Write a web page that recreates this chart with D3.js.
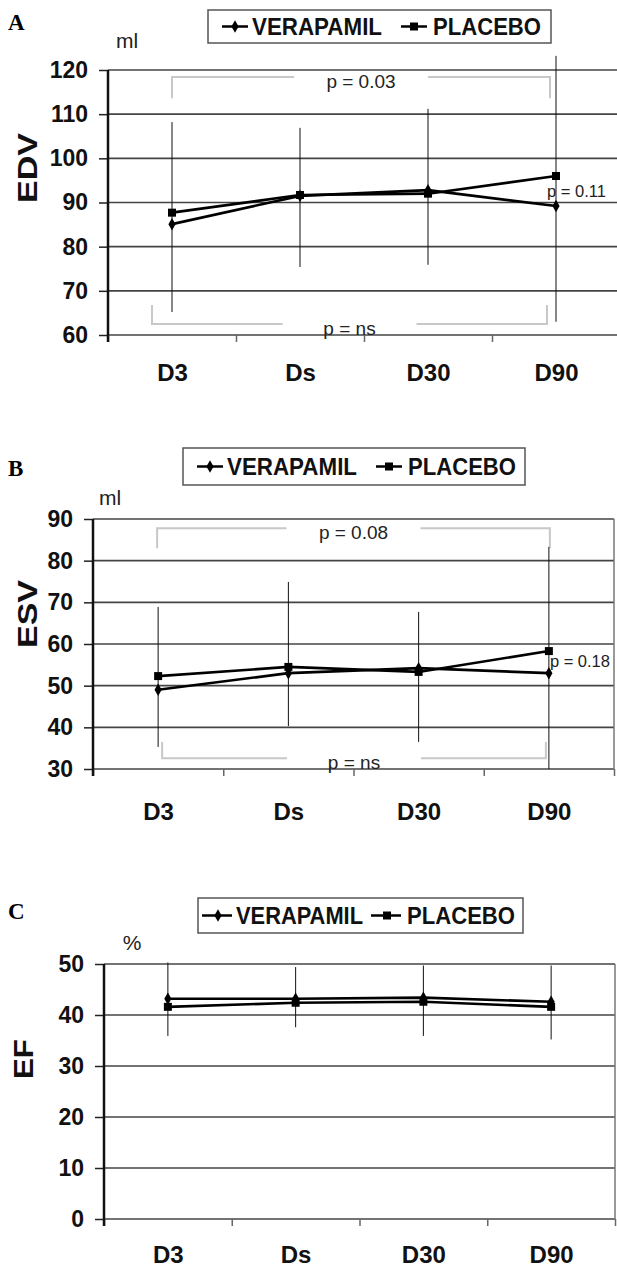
<!doctype html>
<html>
<head>
<meta charset="utf-8">
<style>
    body { margin: 0; background: #fff; }
    text { font-family: "Liberation Sans", Arial, sans-serif; }
</style>
</head>
<body>
<div id="chart"></div>
<script src="https://cdnjs.cloudflare.com/ajax/libs/d3/7.8.5/d3.min.js"></script>
<script>

// categories and series
var days = ["D3", "Ds", "D30", "D90"];
var seriesNames = ["VERAPAMIL", "PLACEBO"];

// A - end diastolic volume (ml)
var edvVerapamil = [85.1, 91.5, 92.8, 89.2];
var edvPlacebo   = [87.7, 91.7, 92.0, 96.0];
var edvErrHigh   = [108.2, 106.9, 111.2, 123.2];
var edvErrLow    = [65.2, 75.4, 75.9, 63.0];
var edvTicks     = [60, 70, 80, 90, 100, 110, 120];
var edvPvalues   = ["p = 0.03", "p = ns", "p = 0.11"];

// B - end systolic volume (ml)
var esvVerapamil = [49.0, 53.0, 54.2, 53.0];
var esvPlacebo   = [52.3, 54.5, 53.3, 58.3];
var esvErrHigh   = [68.9, 74.9, 67.7, 83.3];
var esvErrLow    = [35.3, 40.3, 36.5, 30.0];
var esvTicks     = [30, 40, 50, 60, 70, 80, 90];
var esvPvalues   = ["p = 0.08", "p = ns", "p = 0.18"];

// C - ejection fraction (%)
var efVerapamil = [43.2, 43.2, 43.4, 42.6];
var efPlacebo   = [41.6, 42.4, 42.6, 41.6];
var efErrHigh   = [50.3, 49.4, 49.7, 49.7];
var efErrLow    = [35.9, 37.6, 35.9, 35.2];
var efTicks     = [0, 10, 20, 30, 40, 50];

var svg = d3.select("#chart").append("svg")
    .attr("width", 617)
    .attr("height", 1270);

var wideLegend = {s1: [14, 40], m1: 27, t1: 44, s2: [193, 219], m2: 206, t2: 225, w1: 130, w2: 108};

var panels = [
    {letter: "A", letterY: 30, title: "EDV", titleX: 27, titleY: 168, titleLen: 70,
     unit: "ml", unitX: 127, unitY: 48,
     ver: edvVerapamil, pla: edvPlacebo, hi: edvErrHigh, lo: edvErrLow, ticks: edvTicks,
     left: 108, right: 620, top: 70, bottom: 335, labelY: 372,
     legend: {x: 208, y: 10, w: 343, h: 33, pos: wideLegend},
     pvals: edvPvalues,
     topBracket: {level: 118.4, tip: 113.6, d0: 0, d1: -6},
     bottomBracket: {level: 62.5, tip: 66.8, d0: -20, d1: -9},
     side: {value: 92.6, dx: -9}},
    {letter: "B", letterY: 476, title: "ESV", titleX: 27, titleY: 614, titleLen: 68,
     unit: "ml", unitX: 110, unitY: 505,
     ver: esvVerapamil, pla: esvPlacebo, hi: esvErrHigh, lo: esvErrLow, ticks: esvTicks,
     left: 93, right: 614, top: 519, bottom: 769, labelY: 811,
     legend: {x: 183, y: 448, w: 342, h: 37, pos: wideLegend},
     pvals: esvPvalues,
     topBracket: {level: 87.8, tip: 83, d0: -1, d1: 1},
     bottomBracket: {level: 32.6, tip: 36.5, d0: 4, d1: -3},
     side: {value: 55.9, dx: 1}},
    {letter: "C", letterY: 919, title: "EF", titleX: 23, titleY: 1059, titleLen: 40,
     unit: "%", unitX: 132, unitY: 950,
     ver: efVerapamil, pla: efPlacebo, hi: efErrHigh, lo: efErrLow, ticks: efTicks,
     left: 104, right: 615, top: 964, bottom: 1219, labelY: 1254,
     legend: {x: 198, y: 898, w: 325, h: 35,
              pos: {s1: [4, 34], m1: 20, t1: 38, s2: [173, 203], m2: 189, t2: 209, w1: 127, w2: 108}}}
];

panels.forEach(drawPanel);

function drawPanel(p) {
    var y = d3.scaleLinear().domain(d3.extent(p.ticks)).range([p.bottom, p.top]);
    var x = d3.scalePoint().domain(days).range([p.left, p.right]).padding(0.5);
    var xi = d3.scaleLinear().domain([0, days.length]).range([p.left, p.right]);
    var g = svg.append("g");

    // gridlines
    g.append("g").selectAll("line")
        .data(p.ticks)
        .join("line")
        .attr("x1", p.left).attr("x2", p.right)
        .attr("y1", function(d) { return y(d); })
        .attr("y2", function(d) { return y(d); })
        .attr("stroke", "#444")
        .attr("stroke-width", 1.6);

    // right border of plot area
    g.append("line")
        .attr("x1", p.right).attr("x2", p.right)
        .attr("y1", p.top).attr("y2", p.bottom)
        .attr("stroke", "#777").attr("stroke-width", 1.5);

    // small ticks between categories
    g.append("g")
        .attr("transform", "translate(0," + p.bottom + ")")
        .call(d3.axisBottom(xi).tickValues(d3.range(days.length + 1)).tickSize(7).tickFormat(""))
        .call(function(a) { a.select(".domain").remove(); })
        .selectAll("line").attr("stroke", "#666").attr("stroke-width", 1.5);

    // category labels
    g.append("g")
        .attr("transform", "translate(0," + p.labelY + ")")
        .call(d3.axisBottom(x).tickSize(0).tickPadding(0))
        .call(function(a) { a.select(".domain").remove(); })
        .selectAll("text")
        .attr("y", 0).attr("dy", "0.36em")
        .attr("fill", "#111")
        .attr("font-size", 24).attr("font-weight", "bold");

    // y axis
    g.append("g")
        .attr("transform", "translate(" + p.left + ",0)")
        .call(d3.axisLeft(y).tickValues(p.ticks).tickSize(9).tickPadding(11).tickFormat(d3.format("d")))
        .call(function(a) { a.select(".domain").remove(); })
        .call(function(a) {
            a.selectAll("line").attr("stroke", "#222").attr("stroke-width", 1.5);
            a.selectAll("text").attr("fill", "#111").attr("font-size", 23).attr("font-weight", "bold");
        });
    g.append("line")
        .attr("x1", p.left).attr("x2", p.left)
        .attr("y1", p.top).attr("y2", p.bottom + 7)
        .attr("stroke", "#111").attr("stroke-width", 2.5);

    // brackets with p values
    [p.topBracket, p.bottomBracket].forEach(function(b, i) {
        if (!b) return;
        var x0 = x(days[0]) + b.d0, x1 = x(days[days.length - 1]) + b.d1;
        var mid = (x0 + x1) / 2, yl = y(b.level), yt = y(b.tip);
        g.append("path")
            .attr("d", "M" + x0 + "," + yt + "L" + x0 + "," + yl + "L" + (mid - 67) + "," + yl +
                       "M" + (mid + 67) + "," + yl + "L" + x1 + "," + yl + "L" + x1 + "," + yt)
            .attr("fill", "none")
            .attr("stroke", "#c8c8c8")
            .attr("stroke-width", 2);
        g.append("text")
            .attr("x", mid).attr("y", yl + 4)
            .attr("dy", "0.35em")
            .attr("text-anchor", "middle")
            .attr("font-size", 19)
            .attr("fill", "#222")
            .text(p.pvals[i]);
    });

    // error bars
    g.append("g").selectAll("line")
        .data(days)
        .join("line")
        .attr("x1", function(d) { return x(d); })
        .attr("x2", function(d) { return x(d); })
        .attr("y1", function(d, i) { return y(p.hi[i]); })
        .attr("y2", function(d, i) { return y(p.lo[i]); })
        .attr("stroke", "#111")
        .attr("stroke-width", 1);

    if (p.side) {
        g.append("text")
            .attr("x", x(days[days.length - 1]) + p.side.dx)
            .attr("y", y(p.side.value))
            .attr("dy", "0.35em")
            .attr("font-size", 16.5)
            .attr("fill", "#222")
            .text(p.pvals[2]);
    }

    // series lines + markers
    var line = d3.line()
        .x(function(d, i) { return x(days[i]); })
        .y(function(d) { return y(d); });
    var symbols = [d3.symbolDiamond, d3.symbolSquare];
    var sizes = [45, 64];
    [p.ver, p.pla].forEach(function(vals, k) {
        g.append("path")
            .datum(vals)
            .attr("d", line)
            .attr("fill", "none")
            .attr("stroke", "#000")
            .attr("stroke-width", 2.6);
        g.append("g").selectAll("path")
            .data(vals)
            .join("path")
            .attr("transform", function(d, i) { return "translate(" + x(days[i]) + "," + y(d) + ")"; })
            .attr("d", d3.symbol().type(symbols[k]).size(sizes[k]))
            .attr("fill", "#000");
    });

    // legend
    var L = p.legend, ly = L.y + L.h / 2;
    var lg = g.append("g");
    lg.append("rect")
        .attr("x", L.x).attr("y", L.y)
        .attr("width", L.w).attr("height", L.h)
        .attr("fill", "#fff")
        .attr("stroke", "#555")
        .attr("stroke-width", 1.5);
    [[L.pos.s1, L.pos.m1, L.pos.t1, L.pos.w1], [L.pos.s2, L.pos.m2, L.pos.t2, L.pos.w2]].forEach(function(it, k) {
        lg.append("line")
            .attr("x1", L.x + it[0][0]).attr("x2", L.x + it[0][1])
            .attr("y1", ly).attr("y2", ly)
            .attr("stroke", "#000").attr("stroke-width", 2.5);
        lg.append("path")
            .attr("transform", "translate(" + (L.x + it[1]) + "," + ly + ")")
            .attr("d", d3.symbol().type(symbols[k]).size(sizes[k]))
            .attr("fill", "#000");
        lg.append("text")
            .attr("x", L.x + it[2]).attr("y", ly + 8.5)
            .attr("font-size", 24).attr("font-weight", "bold")
            .attr("textLength", it[3])
            .attr("lengthAdjust", "spacingAndGlyphs")
            .attr("fill", "#111")
            .text(seriesNames[k]);
    });

    // titles, unit, panel letter
    g.append("text")
        .attr("transform", "translate(" + p.titleX + "," + p.titleY + ") rotate(-90)")
        .attr("text-anchor", "middle")
        .attr("dy", "0.36em")
        .attr("font-size", 27).attr("font-weight", "bold")
        .attr("textLength", p.titleLen)
        .attr("lengthAdjust", "spacingAndGlyphs")
        .attr("fill", "#111")
        .text(p.title);
    g.append("text")
        .attr("x", p.unitX).attr("y", p.unitY)
        .attr("text-anchor", "middle")
        .attr("font-size", 21)
        .attr("fill", "#222")
        .text(p.unit);
    g.append("text")
        .attr("x", 8).attr("y", p.letterY)
        .style("font-family", "'Liberation Serif', 'Times New Roman', serif")
        .attr("font-size", 23).attr("font-weight", "bold")
        .text(p.letter);
}
</script>
</body>
</html>
